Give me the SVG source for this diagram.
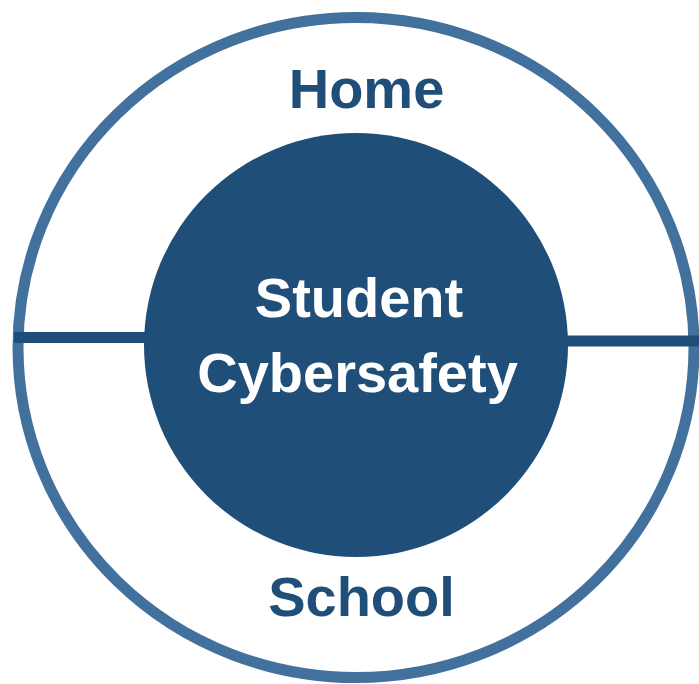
<svg xmlns="http://www.w3.org/2000/svg" width="699" height="684" viewBox="0 0 699 684">
<style>
.lbl{font-family:"Liberation Sans",Arial,sans-serif;font-weight:bold;text-anchor:middle;font-size:56px}
.dark{fill:#1f4e79}
.white{fill:#ffffff}
</style>
<rect width="699" height="684" fill="#ffffff"/>
<g id="outer-ring">
<ellipse cx="356" cy="347.5" rx="338" ry="330" fill="none" stroke="#41719c" stroke-width="11"/>
</g>
<g id="connectors">
<line x1="14" y1="337.5" x2="150" y2="337.5" stroke="#1f4e79" stroke-width="11"/>
<line x1="562" y1="341" x2="699" y2="341" stroke="#1f4e79" stroke-width="11"/>
</g>
<g id="home">
<text class="lbl dark" x="366.5" y="108">Home</text>
</g>
<g id="school">
<text class="lbl dark" x="361.5" y="616">School</text>
</g>
<g id="center">
<circle cx="356" cy="345" r="212" fill="#1f4e79"/>
<text class="lbl white" x="359" y="317">Student</text>
<text class="lbl white" x="357.5" y="392">Cybersafety</text>
</g>
</svg>
